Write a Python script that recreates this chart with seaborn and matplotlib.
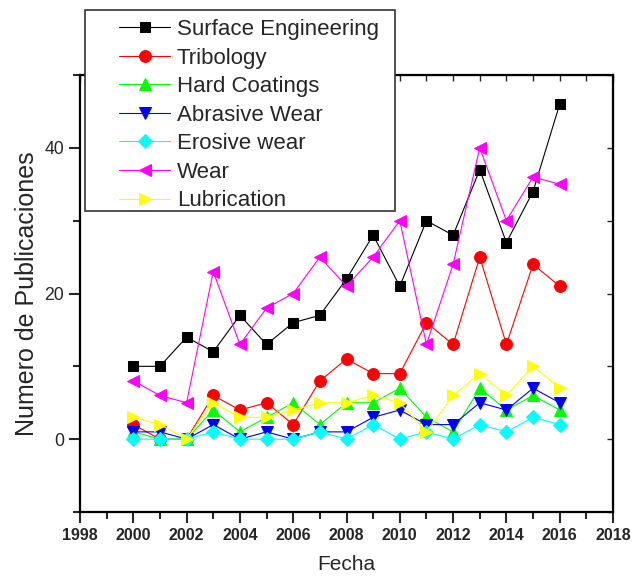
from matplotlib import pyplot as plt
from matplotlib.ticker import MultipleLocator
from matplotlib.patches import Rectangle
import seaborn as sns
import pandas as pd

years = list(range(2000, 2017))
surface = [10, 10, 14, 12, 17, 13, 16, 17, 22, 28, 21, 30, 28, 37, 27, 34, 46]
tribology = [2, 0, 0, 6, 4, 5, 2, 8, 11, 9, 9, 16, 13, 25, 13, 24, 21]
hard = [1, 0, 0, 4, 1, 3, 5, 2, 5, 5, 7, 3, 1, 7, 4, 6, 4]
abrasive = [1, 1, 0, 2, 0, 1, 0, 1, 1, 3, 4, 2, 2, 5, 4, 7, 5]
erosive = [0, 0, 0, 1, 0, 0, 0, 1, 0, 2, 0, 1, 0, 2, 1, 3, 2]
wear = [8, 6, 5, 23, 13, 18, 20, 25, 21, 25, 30, 13, 24, 40, 30, 36, 35]
lubrication = [3, 2, 0, 5, 3, 3, 4, 5, 5, 6, 5, 1, 6, 9, 6, 10, 7]

series = [
    ("Surface Engineering", surface, "black", "s", 7.5),
    ("Tribology", tribology, "#FF0000", "o", 8.5),
    ("Hard Coatings", hard, "#00FF00", "^", 9),
    ("Abrasive Wear", abrasive, "#0000FF", "v", 9),
    ("Erosive wear", erosive, "#00FFFF", "D", 7),
    ("Wear", wear, "#FF00FF", "<", 9),
    ("Lubrication", lubrication, "#FFFF00", ">", 9),
]

sns.set_style("ticks")
plt.rcParams['font.family'] = ['Liberation Sans', 'DejaVu Sans']

fig = plt.figure(figsize=(6.33, 5.77), dpi=100)
ax = fig.add_axes([80 / 633, 1 - 512 / 577, 533 / 633, 437 / 577])

for name, vals, color, marker, ms in series:
    df = pd.DataFrame({"Fecha": years, "n": vals})
    sns.lineplot(data=df, x="Fecha", y="n", color=color, marker=marker,
                 markersize=ms, markeredgecolor=color, linewidth=0.8,
                 label=name, ax=ax)

handles, labels = ax.get_legend_handles_labels()
ax.get_legend().remove()

ax.set_xlim(1998, 2018)
ax.set_ylim(-10, 50)
ax.xaxis.set_major_locator(MultipleLocator(2))
ax.xaxis.set_minor_locator(MultipleLocator(1))
ax.yaxis.set_major_locator(MultipleLocator(20))
ax.yaxis.set_minor_locator(MultipleLocator(10))
ax.tick_params(axis='both', which='major', length=8, width=1.5, direction='out')
ax.tick_params(axis='both', which='minor', length=5, width=1.5, direction='out')
ax.tick_params(axis='x', labelsize=11.5)
ax.tick_params(axis='y', labelsize=12.7)
for lab in ax.get_xticklabels():
    lab.set_fontweight('bold')
for sp in ax.spines.values():
    sp.set_linewidth(1.6)
    sp.set_color('black')

top = ax.secondary_xaxis('top')
top.xaxis.set_major_locator(MultipleLocator(1))
top.tick_params(direction='in', length=4, width=1, labeltop=False)
right = ax.secondary_yaxis('right')
right.yaxis.set_major_locator(MultipleLocator(10))
right.tick_params(direction='in', length=4, width=1, labelright=False)

ax.set_xlabel("Fecha", fontsize=15, labelpad=9)
ax.set_ylabel("Numero de Publicaciones", fontsize=18, labelpad=4)

fig.patches.append(Rectangle((85 / 633, 1 - 211 / 577), 310 / 633, 201 / 577,
                             transform=fig.transFigure, facecolor='white',
                             edgecolor='#333333', linewidth=1.2, zorder=5))
leg = fig.legend(handles, labels, loc='upper left',
                 bbox_to_anchor=(119 / 633, 1 - 19 / 577), frameon=False,
                 fontsize=16, handlelength=2.3, handletextpad=0.3,
                 labelspacing=0.34, borderpad=0, borderaxespad=0)
leg.set_zorder(6)

fig.savefig("out.png", dpi=100)
